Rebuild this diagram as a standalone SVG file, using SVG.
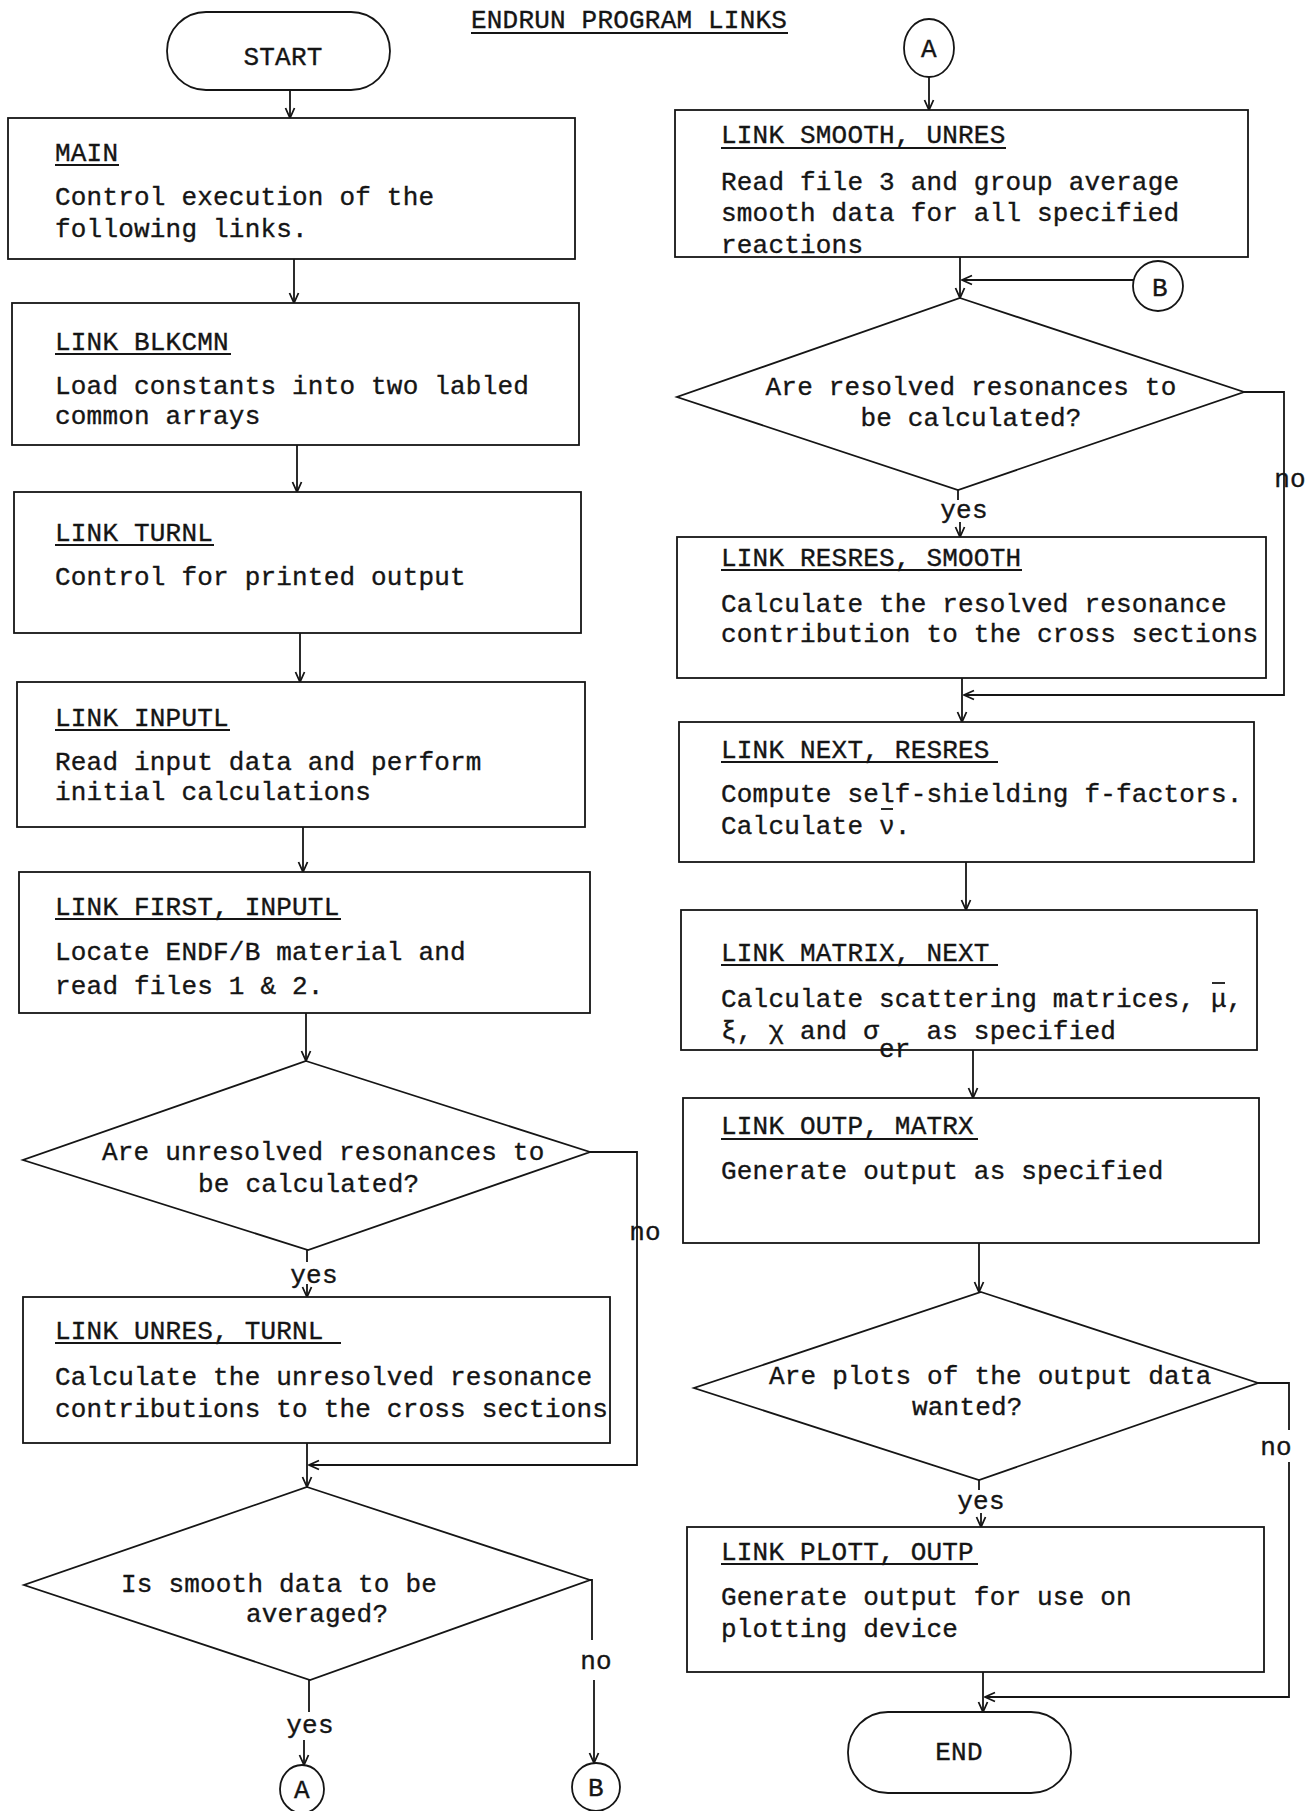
<svg xmlns="http://www.w3.org/2000/svg" width="1308" height="1811" viewBox="0 0 1308 1811">
<defs>
<style>
.t{font-family:"Liberation Mono","DejaVu Sans Mono",monospace;font-size:26px;letter-spacing:0.2px;fill:#151515;stroke:#151515;stroke-width:0.35}
.m{text-anchor:middle}
.b{fill:#fff;stroke:#151515;stroke-width:1.8}
.u{stroke:#151515;stroke-width:1.8}
.c{fill:none;stroke:#151515;stroke-width:1.8}
</style>
<marker id="ah" viewBox="0 0 12 12" refX="11" refY="6" markerWidth="12" markerHeight="12" markerUnits="userSpaceOnUse" orient="auto">
<path d="M1,1.5 L11,6 L1,10.5" fill="none" stroke="#151515" stroke-width="1.8"/>
</marker>
</defs>
<rect width="1308" height="1811" fill="#fff"/>

<g id="connectors">
<path class="c" d="M290,90 V118" marker-end="url(#ah)"/>
<path class="c" d="M294,259 V303" marker-end="url(#ah)"/>
<path class="c" d="M297,445 V492" marker-end="url(#ah)"/>
<path class="c" d="M300,633 V682" marker-end="url(#ah)"/>
<path class="c" d="M303,827 V872" marker-end="url(#ah)"/>
<path class="c" d="M306,1013 V1061" marker-end="url(#ah)"/>
<path class="c" d="M307,1250 V1262"/>
<path class="c" d="M307,1284 V1297" marker-end="url(#ah)"/>
<path class="c" d="M590,1152 H637 V1465 H309" marker-end="url(#ah)"/>
<path class="c" d="M307,1443 V1487" marker-end="url(#ah)"/>
<path class="c" d="M309,1680 V1712"/>
<path class="c" d="M304,1740 V1765" marker-end="url(#ah)"/>
<path class="c" d="M590,1580 H592 V1640"/>
<path class="c" d="M594,1680 V1763" marker-end="url(#ah)"/>
<path class="c" d="M929,77 V110" marker-end="url(#ah)"/>
<path class="c" d="M960,257 V298" marker-end="url(#ah)"/>
<path class="c" d="M1134,280 H962" marker-end="url(#ah)"/>
<path class="c" d="M1244,392 H1284 V695 H964" marker-end="url(#ah)"/>
<path class="c" d="M958,490 V500"/>
<path class="c" d="M960,522 V537" marker-end="url(#ah)"/>
<path class="c" d="M962,678 V722" marker-end="url(#ah)"/>
<path class="c" d="M966,862 V910" marker-end="url(#ah)"/>
<path class="c" d="M973,1050 V1098" marker-end="url(#ah)"/>
<path class="c" d="M979,1243 V1292" marker-end="url(#ah)"/>
<path class="c" d="M1258,1383 H1289 V1430"/>
<path class="c" d="M1289,1462 V1697 H985" marker-end="url(#ah)"/>
<path class="c" d="M979,1480 V1490"/>
<path class="c" d="M981,1513 V1527" marker-end="url(#ah)"/>
<path class="c" d="M983,1672 V1712" marker-end="url(#ah)"/>
</g>

<g id="title">
<text class="t" x="471" y="28">ENDRUN PROGRAM LINKS</text>
<line class="u" x1="471" y1="33" x2="788" y2="33"/>
</g>

<g id="start">
<rect class="b" x="167" y="12" width="223" height="78" rx="39"/>
<text class="t m" x="283" y="65">START</text>
</g>

<g id="main">
<rect class="b" x="8" y="118" width="567" height="141"/>
<text class="t" x="55" y="161">MAIN</text>
<line class="u" x1="55" y1="165" x2="119" y2="165"/>
<text class="t" x="55" y="205">Control execution of the</text>
<text class="t" x="55" y="237">following links.</text>
</g>

<g id="blkcmn">
<rect class="b" x="12" y="303" width="567" height="142"/>
<text class="t" x="55" y="350">LINK BLKCMN</text>
<line class="u" x1="55" y1="354" x2="231" y2="354"/>
<text class="t" x="55" y="394">Load constants into two labled</text>
<text class="t" x="55" y="424">common arrays</text>
</g>

<g id="turnl">
<rect class="b" x="14" y="492" width="567" height="141"/>
<text class="t" x="55" y="541">LINK TURNL</text>
<line class="u" x1="55" y1="545" x2="214" y2="545"/>
<text class="t" x="55" y="585">Control for printed output</text>
</g>

<g id="inputl">
<rect class="b" x="17" y="682" width="568" height="145"/>
<text class="t" x="55" y="726">LINK INPUTL</text>
<line class="u" x1="55" y1="730" x2="230" y2="730"/>
<text class="t" x="55" y="770">Read input data and perform</text>
<text class="t" x="55" y="800">initial calculations</text>
</g>

<g id="first">
<rect class="b" x="19" y="872" width="571" height="141"/>
<text class="t" x="55" y="915">LINK FIRST, INPUTL</text>
<line class="u" x1="55" y1="919" x2="341" y2="919"/>
<text class="t" x="55" y="960">Locate ENDF/B material and</text>
<text class="t" x="55" y="994">read files 1 &amp; 2.</text>
</g>

<g id="d-unresolved">
<polygon class="b" points="306,1061 590,1152 308,1250 23,1160"/>
<text class="t" x="102" y="1160">Are unresolved resonances to</text>
<text class="t" x="198" y="1192">be calculated?</text>
</g>
<text class="t m" x="314" y="1283">yes</text>
<text class="t m" x="645" y="1240">no</text>

<g id="unres">
<rect class="b" x="23" y="1297" width="587" height="146"/>
<text class="t" x="55" y="1339">LINK UNRES, TURNL</text>
<line class="u" x1="55" y1="1343" x2="341" y2="1343"/>
<text class="t" x="55" y="1385">Calculate the unresolved resonance</text>
<text class="t" x="55" y="1417">contributions to the cross sections</text>
</g>

<g id="d-smooth">
<polygon class="b" points="307,1487 590,1580 310,1680 24,1585"/>
<text class="t" x="121" y="1592">Is smooth data to be</text>
<text class="t" x="246" y="1622">averaged?</text>
</g>
<text class="t m" x="310" y="1733">yes</text>
<text class="t m" x="596" y="1669">no</text>

<g id="conn-a-out">
<ellipse class="b" cx="302" cy="1789" rx="22" ry="24"/>
<text class="t m" x="302" y="1798">A</text>
</g>
<g id="conn-b-out">
<ellipse class="b" cx="596" cy="1787" rx="24" ry="24"/>
<text class="t m" x="596" y="1796">B</text>
</g>

<g id="conn-a-in">
<ellipse class="b" cx="929" cy="48" rx="25" ry="29"/>
<text class="t m" x="929" y="57">A</text>
</g>

<g id="smooth">
<rect class="b" x="675" y="110" width="573" height="147"/>
<text class="t" x="721" y="143">LINK SMOOTH, UNRES</text>
<line class="u" x1="721" y1="148" x2="1006" y2="148"/>
<text class="t" x="721" y="190">Read file 3 and group average</text>
<text class="t" x="721" y="221">smooth data for all specified</text>
<text class="t" x="721" y="253">reactions</text>
</g>

<g id="conn-b-in">
<ellipse class="b" cx="1158" cy="286" rx="25" ry="25"/>
<text class="t m" x="1160" y="296">B</text>
</g>

<g id="d-resolved">
<polygon class="b" points="960,298 1244,392 958,490 677,397"/>
<text class="t m" x="971" y="395">Are resolved resonances to</text>
<text class="t m" x="971" y="426">be calculated?</text>
</g>
<text class="t m" x="1290" y="487">no</text>
<text class="t m" x="964" y="518">yes</text>

<g id="resres">
<rect class="b" x="677" y="537" width="589" height="141"/>
<text class="t" x="721" y="566">LINK RESRES, SMOOTH</text>
<line class="u" x1="721" y1="570" x2="1022" y2="570"/>
<text class="t" x="721" y="612">Calculate the resolved resonance</text>
<text class="t" x="721" y="642">contribution to the cross sections</text>
</g>

<g id="next">
<rect class="b" x="679" y="722" width="575" height="140"/>
<text class="t" x="721" y="758">LINK NEXT, RESRES</text>
<line class="u" x1="721" y1="762" x2="998" y2="762"/>
<text class="t" x="721" y="802">Compute self-shielding f-factors.</text>
<text class="t" x="721" y="834">Calculate ν.</text>
<line class="u" x1="881" y1="809" x2="893" y2="809"/>
</g>

<g id="matrix">
<rect class="b" x="681" y="910" width="576" height="140"/>
<text class="t" x="721" y="961">LINK MATRIX, NEXT</text>
<line class="u" x1="721" y1="965" x2="998" y2="965"/>
<text class="t" x="721" y="1007">Calculate scattering matrices, μ,</text>
<line class="u" x1="1212" y1="983" x2="1225" y2="983"/>
<text class="t" x="721" y="1039">ξ, χ and σ<tspan dy="18">er</tspan><tspan dy="-18"> as specified</tspan></text>
</g>

<g id="outp">
<rect class="b" x="683" y="1098" width="576" height="145"/>
<text class="t" x="721" y="1134">LINK OUTP, MATRX</text>
<line class="u" x1="721" y1="1139" x2="978" y2="1139"/>
<text class="t" x="721" y="1179">Generate output as specified</text>
</g>

<g id="d-plots">
<polygon class="b" points="981,1292 1258,1383 979,1480 694,1388"/>
<text class="t" x="769" y="1384">Are plots of the output data</text>
<text class="t" x="912" y="1415">wanted?</text>
</g>
<text class="t m" x="1276" y="1455">no</text>
<text class="t m" x="981" y="1509">yes</text>

<g id="plott">
<rect class="b" x="687" y="1527" width="577" height="145"/>
<text class="t" x="721" y="1560">LINK PLOTT, OUTP</text>
<line class="u" x1="721" y1="1564" x2="978" y2="1564"/>
<text class="t" x="721" y="1605">Generate output for use on</text>
<text class="t" x="721" y="1637">plotting device</text>
</g>

<g id="end">
<rect class="b" x="848" y="1712" width="223" height="81" rx="40"/>
<text class="t m" x="959" y="1760">END</text>
</g>
</svg>
